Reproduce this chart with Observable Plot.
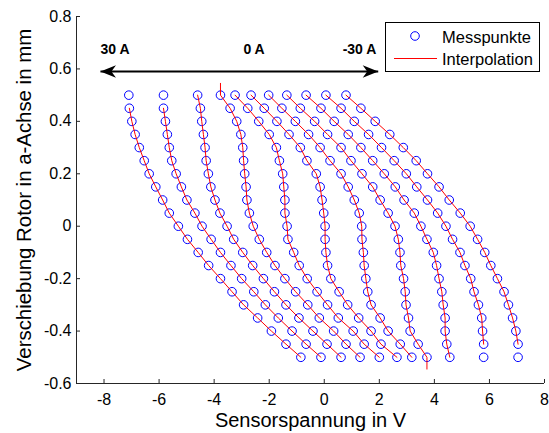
<!DOCTYPE html>
<html>
<head>
<meta charset="utf-8">
<script src="https://cdn.jsdelivr.net/npm/d3@7"></script>
<script src="https://cdn.jsdelivr.net/npm/@observablehq/plot@0.6"></script>
<style>
  html, body { margin: 0; padding: 0; background: #fff; }
  #chart { position: relative; width: 549px; height: 433px; font-family: "Liberation Sans", Arial, sans-serif; }
  #legend { position: absolute; left: 385px; top: 22px; }
</style>
</head>
<body>
<div id="chart"></div>
<script>
// Rotor displacement (a-axis) in mm for each measurement row
const displacement = [0.5, 0.45, 0.4, 0.35, 0.3, 0.25, 0.2, 0.15, 0.1, 0.05, 0,
  -0.05, -0.1, -0.15, -0.2, -0.25, -0.3, -0.35, -0.4, -0.45, -0.5];

// Sensor voltage in V for each current (30 A ... -30 A), one value per displacement row
const u30  = [-7.10, -7.08, -6.99, -6.87, -6.72, -6.54, -6.36, -6.12, -5.87, -5.63, -5.30, -4.97, -4.58, -4.20, -3.77, -3.35, -2.93, -2.42, -1.92, -1.39, -0.85];
const u24  = [-5.84, -5.84, -5.77, -5.70, -5.63, -5.54, -5.38, -5.19, -4.99, -4.70, -4.44, -4.11, -3.77, -3.39, -3.00, -2.56, -2.14, -1.67, -1.17, -0.66, -0.12];
const u18  = [-4.60, -4.50, -4.45, -4.39, -4.33, -4.29, -4.21, -4.12, -3.97, -3.79, -3.53, -3.29, -2.96, -2.60, -2.21, -1.81, -1.39, -0.92, -0.41, 0.10, 0.61];
const u12  = [-3.77, -3.42, -3.18, -3.03, -2.96, -2.93, -2.89, -2.84, -2.81, -2.72, -2.58, -2.36, -2.09, -1.79, -1.43, -1.04, -0.60, -0.18, 0.34, 0.79, 1.30];
const u6   = [-3.24, -2.78, -2.38, -2.00, -1.74, -1.63, -1.51, -1.47, -1.43, -1.43, -1.35, -1.32, -1.11, -0.91, -0.62, -0.26, 0.12, 0.51, 1.05, 1.45, 2.00];
const u0   = [-2.66, -2.18, -1.72, -1.28, -0.87, -0.63, -0.29, -0.15, -0.08, -0.02, 0.03, 0.03, 0.06, 0.12, 0.24, 0.54, 0.85, 1.25, 1.70, 2.06, 2.64];
const um6  = [-2.02, -1.54, -1.05, -0.57, -0.15, 0.21, 0.61, 0.87, 1.09, 1.27, 1.36, 1.37, 1.42, 1.45, 1.51, 1.58, 1.70, 2.03, 2.32, 2.76, 3.18];
const um12 = [-1.36, -0.87, -0.35, 0.12, 0.61, 0.97, 1.37, 1.76, 2.03, 2.32, 2.57, 2.69, 2.75, 2.78, 2.88, 2.94, 2.97, 3.06, 3.12, 3.41, 3.73];
const um18 = [-0.66, -0.12, 0.36, 0.87, 1.33, 1.76, 2.18, 2.58, 2.90, 3.27, 3.51, 3.73, 3.96, 4.08, 4.17, 4.27, 4.32, 4.39, 4.39, 4.45, 4.56];
const um24 = [0.06, 0.61, 1.09, 1.61, 2.08, 2.54, 2.98, 3.36, 3.75, 4.12, 4.42, 4.66, 4.93, 5.11, 5.32, 5.44, 5.60, 5.72, 5.75, 5.79, 5.79];
const um30 = [0.79, 1.33, 1.85, 2.38, 2.87, 3.34, 3.75, 4.17, 4.54, 4.94, 5.30, 5.57, 5.83, 6.05, 6.29, 6.53, 6.69, 6.84, 6.96, 7.04, 7.04];

const currents = [30, 24, 18, 12, 6, 0, -6, -12, -18, -24, -30];

// Interpolation curves: first/last row covered, plus one extension point each
const lineStartRow = [1, 1, 0, 0, 0, 0, 0, 0, 0, 0, 0];
const lineEndRow   = [20, 20, 20, 20, 20, 20, 20, 20, 20, 19, 19];
const extCurrent = [12, -12];
const extVoltage = [-3.77, 3.73];
const extDisplacement = [0.545, -0.545];
const extAtStart = [true, false];

// Axis ticks
const xTicks = [-8, -6, -4, -2, 0, 2, 4, 6, 8];
const yTicks = [-0.6, -0.4, -0.2, 0, 0.2, 0.4, 0.6, 0.8];

// Annotation: current direction arrow (double headed) and labels
const arrowEnds = [-8.13, 1.96];
const arrowHeadTurn = [180, 0];
const arrowLevel = [0.59];
const currentLabels = ["30 A", "0 A", "-30 A"];
const currentLabelX = [-7.6, -2.55, 1.28];
const currentLabelY = [0.673];

const series = [u30, u24, u18, u12, u6, u0, um6, um12, um18, um24, um30];

const points = currents.flatMap((c, i) =>
  series[i].map((v, j) => ({current: c, x: v, y: displacement[j]})));

const lines = currents.flatMap((c, i) => {
  const pts = series[i]
    .map((v, j) => ({current: c, x: v, y: displacement[j], j}))
    .filter(p => p.j >= lineStartRow[i] && p.j <= lineEndRow[i]);
  const e = extCurrent.indexOf(c);
  if (e >= 0) {
    const p = {current: c, x: extVoltage[e], y: extDisplacement[e]};
    if (extAtStart[e]) pts.unshift(p); else pts.push(p);
  }
  return pts;
});

const arrowShaft = [{x1: arrowEnds[0], x2: arrowEnds[1], y: arrowLevel[0]}];
const arrowHeads = arrowEnds.map((x, i) => ({x, y: arrowLevel[0], rot: arrowHeadTurn[i]}));
const labels = currentLabels.map((t, i) => ({t, x: currentLabelX[i], y: currentLabelY[0]}));

// filled, notched arrow head (tip at the symbol centre, pointing right)
const arrowHeadSymbol = {
  draw(context, size) {
    const s = Math.sqrt(size / Math.PI) / 15;
    context.moveTo(0, 0);
    context.lineTo(-15.5 * s, -6.2 * s);
    context.lineTo(-11 * s, 0);
    context.lineTo(-15.5 * s, 6.2 * s);
    context.closePath();
  }
};

const fmtY = d => (d === 0 ? "0" : d.toFixed(1));
const axisColor = "#262626";

const chart = Plot.plot({
  width: 549,
  height: 433,
  marginLeft: 76,
  marginRight: 5,
  marginTop: 16,
  marginBottom: 50,
  style: {fontFamily: "'Liberation Sans', Arial, sans-serif", color: "#000", background: "#fff", overflow: "visible"},
  x: {domain: [-9, 8], label: null},
  y: {domain: [-0.6, 0.8], label: null},
  marks: [
    Plot.ruleY([-0.6], {stroke: axisColor}),
    Plot.ruleX([-9], {stroke: axisColor}),
    Plot.axisX({ticks: xTicks, tickSize: -4, tickPadding: 14, tickFormat: d => String(d), fontSize: 16, label: null, stroke: axisColor, fill: "#000"}),
    Plot.axisY({ticks: yTicks, tickSize: -4, tickPadding: 9, tickFormat: fmtY, fontSize: 16, label: null, stroke: axisColor, fill: "#000"}),
    Plot.dot(points, {x: "x", y: "y", r: 4.3, stroke: "#0000ff", strokeWidth: 1, fill: "none"}),
    Plot.line(lines, {x: "x", y: "y", z: "current", stroke: "#ff0000", strokeWidth: 1, curve: "linear"}),
    Plot.link(arrowShaft, {x1: "x1", x2: "x2", y1: "y", y2: "y", stroke: "#000", strokeWidth: 2}),
    Plot.dot(arrowHeads, {x: "x", y: "y", r: 15, symbol: arrowHeadSymbol, rotate: "rot", fill: "#000", stroke: "none"}),
    Plot.text(labels, {x: "x", y: "y", text: "t", fontWeight: "bold", fontSize: 14, fill: "#000"}),
    Plot.text(["Sensorspannung in V"], {frameAnchor: "bottom", textAnchor: "middle", lineAnchor: "middle", dy: 37, fontSize: 20, fill: "#000"}),
    Plot.text(["Verschiebung Rotor in a-Achse in mm"], {frameAnchor: "left", textAnchor: "middle", lineAnchor: "middle", dx: -52, rotate: -90, fontSize: 20.4, fill: "#000"})
  ]
});

const host = document.getElementById("chart");
host.appendChild(chart);

// Legend (inside the plot area, top right)
const legend = document.createElement("div");
legend.id = "legend";
legend.innerHTML = `
<svg width="156" height="52" xmlns="http://www.w3.org/2000/svg" font-family="'Liberation Sans', Arial, sans-serif">
  <rect x="0.5" y="0.5" width="154" height="49" fill="#fff" stroke="#000" stroke-width="1"/>
  <circle cx="30" cy="14" r="4.3" fill="none" stroke="#0000ff" stroke-width="1"/>
  <text x="57" y="20.5" font-size="16.5" fill="#000">Messpunkte</text>
  <line x1="9" x2="52" y1="36.5" y2="36.5" stroke="#ff0000" stroke-width="1"/>
  <text x="57" y="43" font-size="16.5" fill="#000">Interpolation</text>
</svg>`;
host.appendChild(legend);
</script>
</body>
</html>
